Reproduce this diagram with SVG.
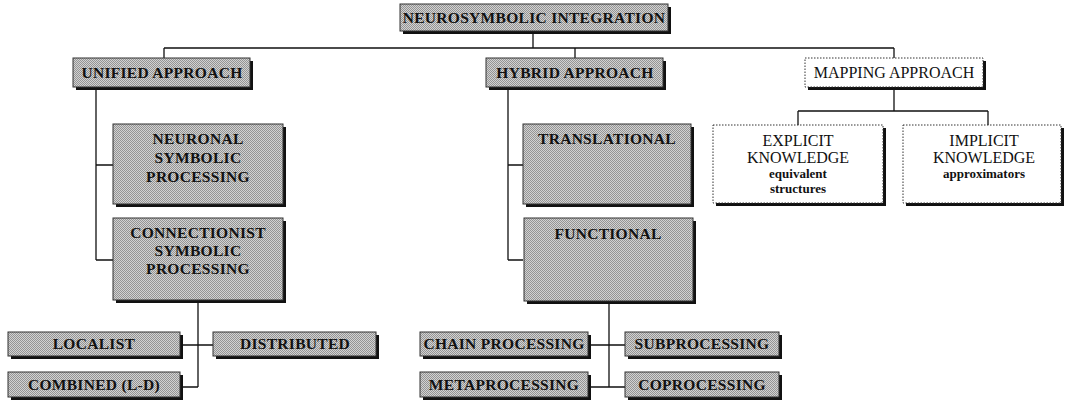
<svg xmlns="http://www.w3.org/2000/svg" width="1068" height="404" viewBox="0 0 1068 404">
<defs>
<pattern id="dots" width="2" height="2" patternUnits="userSpaceOnUse">
<rect width="2" height="2" fill="#d2d2d2"/>
<rect width="1" height="1" fill="#949494"/>
<rect x="1" y="1" width="1" height="1" fill="#949494"/>
</pattern>
<style>
.sh{fill:#111}
.g{fill:url(#dots);stroke:#333;stroke-width:1}
.w{fill:#fff;stroke:#333;stroke-width:1;stroke-dasharray:1.5 1.5}
.t{font-family:"Liberation Serif",serif;font-weight:bold;font-size:15.5px;fill:#111;text-anchor:middle;letter-spacing:0.3px}
.m{font-family:"Liberation Serif",serif;font-size:16px;fill:#111;text-anchor:middle}
.s{font-family:"Liberation Serif",serif;font-weight:bold;font-size:13px;fill:#111;text-anchor:middle}
.c{fill:none;stroke:#111;stroke-width:1.3}
</style>
</defs>
<rect width="1068" height="404" fill="#fff"/>
<g id="connectors">
<path class="c" d="M533 31V48M164 48H894M164 48V58M575 48V58M894 48V58"/>
<path class="c" d="M96 88V260M96 165H113M96 260H113"/>
<path class="c" d="M198 302V387M183 345H213M183 387H198"/>
<path class="c" d="M508 88V260M508 165H523M508 260H523"/>
<path class="c" d="M609 304V387M591 345H625M591 387H625"/>
<path class="c" d="M894 89V111M798 111H988M798 111V125M988 111V125"/>
</g>
<g id="n-top">
<rect class="sh" x="403" y="7" width="268" height="27"/>
<rect class="g" x="400" y="4" width="268" height="27"/>
<text class="t" x="534" y="23">NEUROSYMBOLIC INTEGRATION</text>
</g>
<g id="n-unified">
<rect class="sh" x="76" y="61" width="177" height="29"/>
<rect class="g" x="73" y="58" width="177" height="29"/>
<text class="t" x="162" y="78">UNIFIED APPROACH</text>
</g>
<g id="n-hybrid">
<rect class="sh" x="489" y="61" width="177" height="29"/>
<rect class="g" x="486" y="58" width="177" height="29"/>
<text class="t" x="575" y="78">HYBRID APPROACH</text>
</g>
<g id="n-mapping">
<rect class="sh" x="808" y="61" width="178" height="29"/>
<rect class="w" x="805" y="58" width="178" height="29"/>
<text class="m" x="894" y="78">MAPPING APPROACH</text>
</g>
<g id="n-neuronal">
<rect class="sh" x="116" y="127" width="170" height="80"/>
<rect class="g" x="113" y="124" width="170" height="80"/>
<text class="t" x="198" y="144">NEURONAL</text>
<text class="t" x="198" y="163">SYMBOLIC</text>
<text class="t" x="198" y="182">PROCESSING</text>
</g>
<g id="n-connectionist">
<rect class="sh" x="116" y="221" width="170" height="82"/>
<rect class="g" x="113" y="218" width="170" height="82"/>
<text class="t" x="198" y="238">CONNECTIONIST</text>
<text class="t" x="198" y="256">SYMBOLIC</text>
<text class="t" x="198" y="274">PROCESSING</text>
</g>
<g id="n-localist">
<rect class="sh" x="11" y="335" width="172" height="24"/>
<rect class="g" x="8" y="332" width="172" height="24"/>
<text class="t" x="94" y="349">LOCALIST</text>
</g>
<g id="n-distributed">
<rect class="sh" x="216" y="335" width="163" height="24"/>
<rect class="g" x="213" y="332" width="163" height="24"/>
<text class="t" x="295" y="349">DISTRIBUTED</text>
</g>
<g id="n-combined">
<rect class="sh" x="11" y="375" width="172" height="25"/>
<rect class="g" x="8" y="372" width="172" height="25"/>
<text class="t" x="94" y="390">COMBINED (L-D)</text>
</g>
<g id="n-translational">
<rect class="sh" x="526" y="127" width="168" height="80"/>
<rect class="g" x="523" y="124" width="168" height="80"/>
<text class="t" x="607" y="144">TRANSLATIONAL</text>
</g>
<g id="n-functional">
<rect class="sh" x="527" y="221" width="169" height="83"/>
<rect class="g" x="524" y="218" width="169" height="83"/>
<text class="t" x="608" y="239">FUNCTIONAL</text>
</g>
<g id="n-chain">
<rect class="sh" x="423" y="335" width="168" height="24"/>
<rect class="g" x="420" y="332" width="168" height="24"/>
<text class="t" x="504" y="349">CHAIN PROCESSING</text>
</g>
<g id="n-sub">
<rect class="sh" x="628" y="335" width="154" height="24"/>
<rect class="g" x="625" y="332" width="154" height="24"/>
<text class="t" x="702" y="349">SUBPROCESSING</text>
</g>
<g id="n-meta">
<rect class="sh" x="423" y="375" width="168" height="25"/>
<rect class="g" x="420" y="372" width="168" height="25"/>
<text class="t" x="504" y="390">METAPROCESSING</text>
</g>
<g id="n-co">
<rect class="sh" x="628" y="375" width="154" height="25"/>
<rect class="g" x="625" y="372" width="154" height="25"/>
<text class="t" x="702" y="390">COPROCESSING</text>
</g>
<g id="n-explicit">
<rect class="sh" x="716" y="128" width="170" height="78"/>
<rect class="w" x="713" y="125" width="170" height="78"/>
<text class="m" x="798" y="146">EXPLICIT</text>
<text class="m" x="798" y="163">KNOWLEDGE</text>
<text class="s" x="798" y="178">equivalent</text>
<text class="s" x="798" y="193">structures</text>
</g>
<g id="n-implicit">
<rect class="sh" x="906" y="128" width="158" height="78"/>
<rect class="w" x="903" y="125" width="158" height="78"/>
<text class="m" x="984" y="146">IMPLICIT</text>
<text class="m" x="984" y="163">KNOWLEDGE</text>
<text class="s" x="984" y="178">approximators</text>
</g>
</svg>
